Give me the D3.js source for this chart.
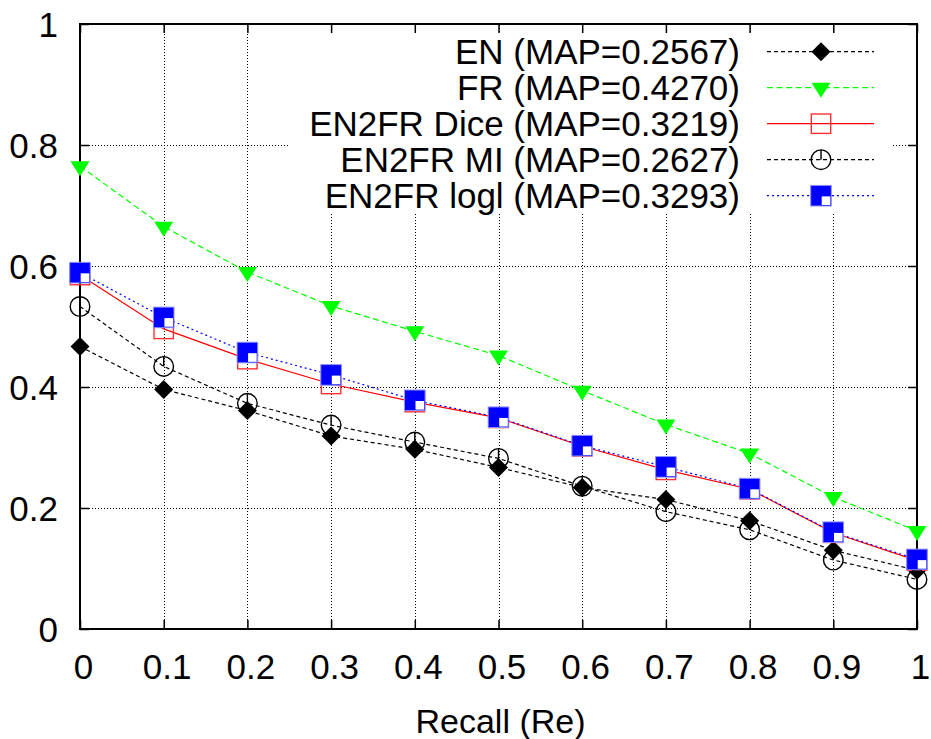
<!DOCTYPE html>
<html>
<head>
<meta charset="utf-8">
<script src="https://cdn.jsdelivr.net/npm/d3@7"></script>
<style>
  body { margin: 0; background: #fff; }
  text { font-family: "Liberation Sans", Arial, Helvetica, sans-serif; fill: #000; }
</style>
</head>
<body>
<div id="chart"></div>
<script>
// recall levels and precision for each run
const recall = [0, 0.1, 0.2, 0.3, 0.4, 0.5, 0.6, 0.7, 0.8, 0.9, 1];
const enPrec    = [0.467, 0.396, 0.361, 0.319, 0.297, 0.267, 0.234, 0.214, 0.179, 0.130, 0.097];
const frPrec    = [0.765, 0.665, 0.590, 0.534, 0.492, 0.452, 0.394, 0.338, 0.290, 0.218, 0.162];
const dicePrec  = [0.585, 0.496, 0.446, 0.405, 0.375, 0.349, 0.302, 0.263, 0.231, 0.159, 0.113];
const miPrec    = [0.533, 0.434, 0.373, 0.337, 0.309, 0.282, 0.236, 0.194, 0.164, 0.114, 0.082];
const loglPrec  = [0.589, 0.515, 0.457, 0.420, 0.378, 0.350, 0.303, 0.268, 0.232, 0.160, 0.115];

const seriesNames = ["EN (MAP=0.2567)", "FR (MAP=0.4270)", "EN2FR Dice (MAP=0.3219)",
                     "EN2FR MI (MAP=0.2627)", "EN2FR logl (MAP=0.3293)"];

const xTicks = [0, 0.1, 0.2, 0.3, 0.4, 0.5, 0.6, 0.7, 0.8, 0.9, 1];
const yTicks = [0, 0.2, 0.4, 0.6, 0.8, 1];
const xTitle = "Recall (Re)";

const width = 931, height = 739;
const margin = { top: 24, right: 14, bottom: 110, left: 80 };
const plotW = width - margin.left - margin.right;
const plotH = height - margin.top - margin.bottom;

const x = d3.scaleLinear().domain([0, 1]).range([0, plotW]);
const y = d3.scaleLinear().domain([0, 1]).range([plotH, 0]);

const fmt = d => d === 0 ? "0" : d === 1 ? "1" : d3.format(".1f")(d);

const svg = d3.select("#chart").append("svg")
    .attr("width", width)
    .attr("height", height)
    .append("g")
    .attr("transform", "translate(" + margin.left + "," + margin.top + ")");

// grid
svg.append("g")
    .attr("transform", "translate(0," + plotH + ")")
    .call(d3.axisBottom(x).tickValues(xTicks).tickSize(-plotH).tickFormat(""))
    .call(g => g.select(".domain").remove())
    .selectAll("line")
    .attr("stroke", "#000")
    .attr("shape-rendering", "crispEdges")
    .attr("stroke-dasharray", "1,2");

svg.append("g")
    .call(d3.axisLeft(y).tickValues(yTicks).tickSize(-plotW).tickFormat(""))
    .call(g => g.select(".domain").remove())
    .selectAll("line")
    .attr("stroke", "#000")
    .attr("shape-rendering", "crispEdges")
    .attr("stroke-dasharray", "1,2");

// opaque key area hides the grid
const key = { x0: 290, x1: 893, y0: 33, y1: 212 };
svg.append("rect")
    .attr("x", key.x0 - margin.left)
    .attr("y", key.y0 - margin.top)
    .attr("width", key.x1 - key.x0)
    .attr("height", key.y1 - key.y0)
    .attr("fill", "#fff");

// axes with inward ticks on all sides
const xAxis = svg.append("g")
    .attr("transform", "translate(0," + plotH + ")")
    .call(d3.axisBottom(x).tickValues(xTicks).tickSize(-9).tickPadding(0).tickFormat(fmt));
xAxis.selectAll("text")
    .attr("x", 3)
    .attr("y", 50)
    .attr("dy", null)
    .style("font-size", "35px");

const yAxis = svg.append("g")
    .call(d3.axisLeft(y).tickValues(yTicks).tickSize(-9).tickPadding(0).tickFormat(fmt));
yAxis.selectAll("text")
    .attr("x", -22)
    .attr("y", 12.5)
    .attr("dy", null)
    .style("font-size", "35px");

svg.append("g")
    .call(d3.axisTop(x).tickValues(xTicks).tickSize(-9).tickFormat(""));
svg.append("g")
    .attr("transform", "translate(" + plotW + ",0)")
    .call(d3.axisRight(y).tickValues(yTicks).tickSize(-9).tickFormat(""));

svg.selectAll(".domain").remove();
svg.selectAll(".tick line").filter(function() { return !this.getAttribute("stroke-dasharray"); })
    .attr("stroke", "#000").attr("stroke-width", 1.5);

svg.append("rect")
    .attr("width", plotW)
    .attr("height", plotH)
    .attr("fill", "none")
    .attr("stroke", "#000")
    .attr("stroke-width", 2);

svg.append("text")
    .attr("x", plotW / 2 + 2)
    .attr("y", plotH + 104)
    .attr("text-anchor", "middle")
    .style("font-size", "34px")
    .text(xTitle);

// marker painters
function diamond(g, cx, cy) {
    g.append("path")
        .attr("d", "M" + cx + "," + (cy - 9.5) + "L" + (cx + 9.5) + "," + cy + "L" + cx + "," + (cy + 9.5) + "L" + (cx - 9.5) + "," + cy + "Z")
        .attr("fill", "#000");
}
function triangle(g, cx, cy) {
    g.append("path")
        .attr("d", "M" + (cx - 9.5) + "," + (cy - 5) + "L" + (cx + 9.5) + "," + (cy - 5) + "L" + cx + "," + (cy + 10) + "Z")
        .attr("fill", "#00ff00");
}
function openSquare(g, cx, cy) {
    g.append("rect")
        .attr("x", cx - 9.7).attr("y", cy - 9.7)
        .attr("width", 19.4).attr("height", 19.4)
        .attr("fill", "none")
        .attr("stroke", "#ff3030")
        .attr("stroke-width", 1.4);
}
function clock(g, cx, cy) {
    g.append("circle")
        .attr("cx", cx).attr("cy", cy).attr("r", 9.8)
        .attr("fill", "none").attr("stroke", "#000").attr("stroke-width", 1.4);
    g.append("line")
        .attr("x1", cx).attr("x2", cx).attr("y1", cy - 9.8).attr("y2", cy)
        .attr("stroke", "#000").attr("stroke-width", 1.4);
}
function halfSquare(g, cx, cy) {
    g.append("rect")
        .attr("x", cx - 10.3).attr("y", cy - 10.3)
        .attr("width", 20.6).attr("height", 20.6)
        .attr("fill", "#0000ff")
        .attr("stroke", "#9090ff")
        .attr("stroke-width", 1);
    g.append("rect")
        .attr("x", cx + 0.7).attr("y", cy + 0.7)
        .attr("width", 8.6).attr("height", 8.6)
        .attr("fill", "#fff");
}

const series = [
    { name: seriesNames[0], values: enPrec, color: "#000", dash: "4,3", marker: diamond },
    { name: seriesNames[1], values: frPrec, color: "#00ff00", dash: "6,3.5", marker: triangle },
    { name: seriesNames[2], values: dicePrec, color: "#ff0000", dash: null, marker: openSquare },
    { name: seriesNames[3], values: miPrec, color: "#000", dash: "4,3", marker: clock },
    { name: seriesNames[4], values: loglPrec, color: "#0000ff", dash: "2,3", marker: halfSquare }
];

const line = d3.line()
    .x(function(d, i) { return x(recall[i]); })
    .y(function(d) { return y(d); });

const legendX = 740 - margin.left;
const sampleX0 = 767 - margin.left, sampleX1 = 874 - margin.left, sampleMid = 821 - margin.left;

series.forEach(function(s, k) {
    const g = svg.append("g");
    const rowY = 51.7 + k * 36 - margin.top;

    // key entry
    g.append("text")
        .attr("x", legendX)
        .attr("y", rowY + 12.5)
        .attr("text-anchor", "end")
        .style("font-size", "35px")
        .text(s.name);
    g.append("line")
        .attr("x1", sampleX0).attr("x2", sampleX1)
        .attr("y1", rowY).attr("y2", rowY)
        .attr("stroke", s.color)
        .attr("stroke-width", 1.2)
        .attr("stroke-dasharray", s.dash);
    s.marker(g, sampleMid, rowY);

    // curve
    g.append("path")
        .datum(s.values)
        .attr("d", line)
        .attr("fill", "none")
        .attr("stroke", s.color)
        .attr("stroke-width", 1.2)
        .attr("stroke-dasharray", s.dash);
    s.values.forEach(function(v, i) {
        s.marker(g, x(recall[i]), y(v));
    });
});
</script>
</body>
</html>
